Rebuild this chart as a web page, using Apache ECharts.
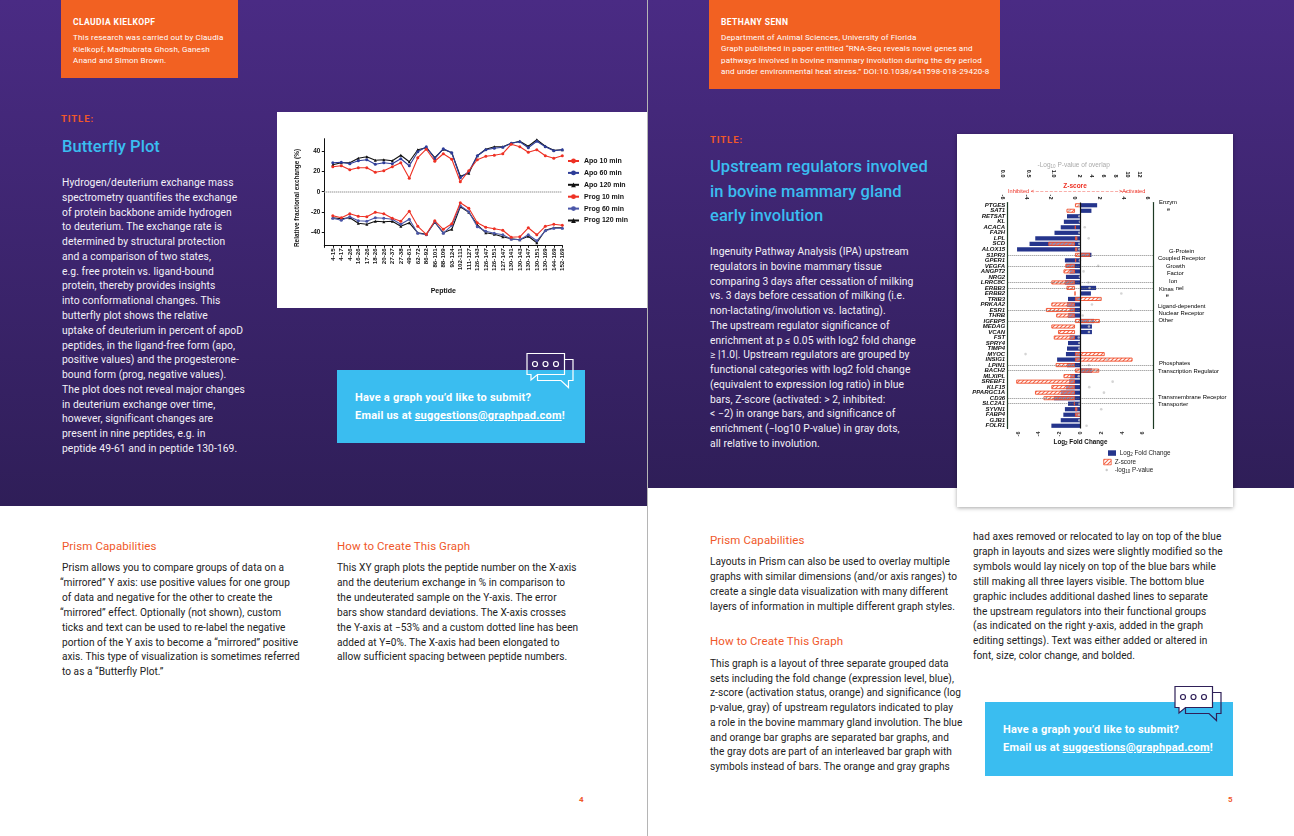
<!DOCTYPE html>
<html>
<head>
<meta charset="utf-8">
<title>Butterfly plot and upstream regulators</title>
<style>
  html, body { margin: 0; padding: 0; background: #fff; }
  #page { position: relative; width: 1294px; height: 836px; overflow: hidden; font-family: Roboto, sans-serif; }
  .box { position: absolute; }
  .t { position: absolute; white-space: nowrap; }
  .q { margin-left: -2px; }
  #chart { position: absolute; left: 0; top: 0; width: 1294px; height: 836px; }
</style>
</head>
<body>
<div id="page">
  <div class="box" style="left:0;top:0;width:647px;height:506px;background:linear-gradient(#4a2b84,#2f1e58)"></div>
  <div class="box" style="left:648px;top:0;width:646px;height:488px;background:linear-gradient(#4a2b84,#2f1e58)"></div>
  <div class="box" style="left:647px;top:0;width:1px;height:836px;background:#b5b5b5"></div>
  <div class="box" style="left:61px;top:0;width:177px;height:78px;background:#f26122"></div>
  <div class="box" style="left:709px;top:0;width:291px;height:89px;background:#f26122"></div>
  <div class="box" style="left:277px;top:112px;width:370px;height:196px;background:#fff"></div>
  <div class="box" style="left:957px;top:134px;width:276px;height:373px;background:#fff;box-shadow:0 1px 4px rgba(0,0,0,.35)"></div>
  <div class="box" style="left:337px;top:370px;width:248px;height:73px;background:#3abdf0"></div>
  <div class="box" style="left:985px;top:702px;width:248px;height:74px;background:#3abdf0"></div>
  <svg class="box" style="left:525px;top:352px" width="50" height="38" fill="none" stroke="#fff" stroke-width="1.2">
    <path d="M39.5 7.5H48V28.500H43.500V35.500L36 28.500H12.500V23" />
    <path d="M2 1.500H39.500V22.500H12.500L6 28V22.500H2Z" />
    <circle cx="10" cy="12" r="2.500" /><circle cx="20.500" cy="12" r="2.500" /><circle cx="31" cy="12" r="2.500" />
  </svg>
  <svg class="box" style="left:1173px;top:685px" width="50" height="38" fill="none" stroke="#2f2058" stroke-width="1.2">
    <path d="M39.500 7.500H48V28.500H43.500V35.500L36 28.500H12.500V23" />
    <path d="M2 1.500H39.500V22.500H12.500L6 28V22.500H2Z" fill="#fff" />
    <circle cx="10" cy="12" r="2.500" /><circle cx="20.500" cy="12" r="2.500" /><circle cx="31" cy="12" r="2.500" />
  </svg>
  <div id="chart"></div>
</div>
<script src="https://cdn.jsdelivr.net/npm/echarts@6/dist/echarts.min.js"></script>
<script>
  // left chart
  const peptides = ['4-15', '4-17', '4-26', '16-26', '17-26', '18-26', '20-26', '27-37', '27-38', '49-61', '62-72', '86-92', '86-101', '88-109', '93-124', '102-111', '111-127', '126-143', '126-147', '126-151', '127-147', '130-141', '130-143', '130-147', '130-151', '130-169', '144-169', '152-169']
  const apo10 = [25, 26, 22, 24, 24, 19.5, 21, 25, 29, 13.5, 34, 42.5, 30.5, 38, 32.5, 10, 21, 32, 35.5, 36.5, 38, 47.5, 45, 39.5, 42, 36, 33.5, 36]
  const apo60 = [29, 29.5, 28, 31, 32, 27.5, 29, 28, 33, 26, 40, 45, 33, 43, 39, 14, 20, 36, 42, 43.5, 44.5, 48.5, 50, 44, 50.5, 45, 41, 42]
  const apo120 = [27, 29, 29, 33.5, 35, 31.5, 32, 31, 36.5, 30, 42, 44, 34, 42.5, 39, 15.5, 18.5, 36, 42.5, 45, 45, 48.5, 50.5, 45.5, 52, 45.5, 41.5, 42]
  const prog10 = [-24, -26, -22, -24.5, -25, -20.5, -22, -26.5, -29.5, -19.5, -34.5, -42.5, -29, -37.5, -32, -11, -16.5, -31, -35.5, -37, -38.5, -45.5, -45, -36, -43, -34.5, -32.5, -33.5]
  const prog60 = [-26.5, -28.5, -25, -29, -29.5, -26, -26.5, -27.5, -32.5, -27.5, -41.5, -43, -30, -41.5, -33.5, -14, -20, -35, -39.5, -41.5, -43, -47.5, -48, -43, -49, -39, -36.5, -36.5]
  const prog120 = [-26, -27, -26, -31.5, -32.5, -29.5, -30, -29.5, -34.5, -31, -41, -42.5, -30.5, -41, -37.5, -15, -20.5, -33, -41, -42.5, -45, -47, -48, -44.5, -51, -38.5, -36, -36]
  const exchangeTicks = [-40, -20, 0, 20, 40]

  // right chart
  const genes = ['PTGES', 'SAT1', 'RETSAT', 'KL', 'ACACA', 'FA2H', 'LPL', 'SCD', 'ALOX15', 'S1PR3', 'GPER1', 'VEGFA', 'ANGPT2', 'NRG2', 'LRRC8C', 'ERBB3', 'ERBB2', 'TRIB3', 'PRKAA2', 'ESR1', 'THRB', 'IGFBP5', 'MEDAG', 'VCAN', 'FST', 'SPRY4', 'TIMP4', 'MYOC', 'INSIG1', 'LPIN1', 'BACH2', 'MLXIPL', 'SREBF1', 'KLF15', 'PPARGC1A', 'CD36', 'SLC2A1', 'SYVN1', 'FABP4', 'GJB1', 'FOLR1']
  const foldChange = [1.6, 1.05, -1.3, -1.6, -1.9, -2.5, -4.35, -4.9, -6.1, 1.05, -1.5, -1.4, -1.05, -1.4, -1.5, 1.5, 1, -1.2, -1.3, -1.05, -1.2, 1.3, 1.1, 1.1, -1.05, -1.2, -1.3, -1.4, -2.25, -1.3, 1.1, -1, -1.1, -1.4, -1.9, -2.55, -1.2, -1.5, -1.65, -1.9, -2.8]
  const zScore = [0.5, -0.7, null, null, 0.05, null, 0.2, -2.2, 0.2, 1.25, 0.1, -0.8, -0.95, null, -1.95, -0.7, 0, 2.2, -1.95, -2.4, -1.55, 2.05, -1.95, -1.4, -1.75, null, null, 2.45, 4.75, -1.6, 2, -0.95, -4.85, -1.95, -3.3, -2.6, -0.1, 0.2, 0.45, null, null]
  const pValue = [1.9, 1.3, 1.9, 2, 2.8, 1.9, 3.45, 1.9, 1.9, 2, 2, 5.05, 2.6, 2, 3.4, 3.6, 8.9, 5.3, 4, 10.5, 2.45, 3.7, 3.5, 3.5, 1.8, 1.9, 1.9, 0.45, 6.5, 3.5, 4.6, 1.8, 7.45, 3.55, 6, 0.83, 1.9, 5.55, 1.9, 1.9, 3.1]
  const dividerGenes = ['S1PR3', 'VEGFA', 'LRRC8C', 'ERBB3', 'ESR1', 'IGFBP5', 'LPIN1', 'BACH2', 'CD36', 'SLC2A1']
  const foldTicks = [-6, -4, -2, 0, 2, 4, 6]
  const pTicksLow = [0, 0.5, 1]
  const pTicksHigh = [2, 4, 6, 8, 10, 12]

  // page text, [x, y of first line, line height, style name, lines]
  const textBlocks = [
    [73, 22, 0, 'who', ['CLAUDIA KIELKOPF']],
    [73, 38, 11.5, 'credit', ['This research was carried out by Claudia', 'Kielkopf, Madhubrata Ghosh, Ganesh', 'Anand and Simon Brown.']],
    [61, 119, 0, 'label', ['TITLE:']],
    [62, 146.5, 0, 'heading', ['Butterfly Plot']],
    [62, 183, 14.78, 'body', ['Hydrogen/deuterium exchange mass', 'spectrometry quantifies the exchange', 'of protein backbone amide hydrogen', 'to deuterium. The exchange rate is', 'determined by structural protection', 'and a comparison of two states,', 'e.g. free protein vs. ligand-bound', 'protein, thereby provides insights', 'into conformational changes. This', 'butterfly plot shows the relative', 'uptake of deuterium in percent of apoD', 'peptides, in the ligand-free form (apo,', 'positive values) and the progesterone-', 'bound form (prog, negative values).', 'The plot does not reveal major changes', 'in deuterium exchange over time,', 'however, significant changes are', 'present in nine peptides, e.g. in', 'peptide 49-61 and in peptide 130-169.']],
    [355, 398, 18, 'ask', ['Have a graph you’d like to submit?', 'Email us at <u>suggestions@graphpad.com</u>!']],
    [62, 546, 0, 'sub', ['Prism Capabilities']],
    [337, 546, 0, 'sub', ['How to Create This Graph']],
    [62, 568, 14.9, 'para', ['Prism allows you to compare groups of data on a', '<span class="q">“mirrored” Y axis: use positive values for one group</span>', 'of data and negative for the other to create the', '<span class="q">“mirrored” effect. Optionally (not shown), custom</span>', 'ticks and text can be used to re-label the negative', 'portion of the Y axis to become a “mirrored” positive', 'axis. This type of visualization is sometimes referred', 'to as a “Butterfly Plot.”']],
    [337, 568, 14.9, 'para', ['This XY graph plots the peptide number on the X-axis', 'and the deuterium exchange in % in comparison to', 'the undeuterated sample on the Y-axis. The error', 'bars show standard deviations. The X-axis crosses', 'the Y-axis at −53% and a custom dotted line has been', 'added at Y=0%. The X-axis had been elongated to', 'allow sufficient spacing between peptide numbers.']],
    [579, 800, 0, 'num', ['4']],
    [721, 22, 0, 'who', ['BETHANY SENN']],
    [721, 38, 11.4, 'credit', ['Department of Animal Sciences, University of Florida', 'Graph published in paper entitled “RNA-Seq reveals novel genes and', 'pathways involved in bovine mammary involution during the dry period', 'and under environmental heat stress.” DOI:10.1038/s41598-018-29420-8']],
    [710, 140, 0, 'label', ['TITLE:']],
    [710, 167, 24.5, 'heading', ['Upstream regulators involved', 'in bovine mammary gland', 'early involution']],
    [710, 252, 14.77, 'body', ['Ingenuity Pathway Analysis (IPA) upstream', 'regulators in bovine mammary tissue', 'comparing 3 days after cessation of milking', 'vs. 3 days before cessation of milking (i.e.', 'non-lactating/involution vs. lactating).', 'The upstream regulator significance of', 'enrichment at p ≤ 0.05 with log2 fold change', '≥ |1.0|. Upstream regulators are grouped by', 'functional categories with log2 fold change', '(equivalent to expression log ratio) in blue', 'bars, Z-score (activated: > 2, inhibited:', '< −2) in orange bars, and significance of', 'enrichment (−log10 P-value) in gray dots,', 'all relative to involution.']],
    [1003, 730, 18, 'ask', ['Have a graph you’d like to submit?', 'Email us at <u>suggestions@graphpad.com</u>!']],
    [710, 540, 0, 'sub', ['Prism Capabilities']],
    [710, 562, 15, 'para', ['Layouts in Prism can also be used to overlay multiple', 'graphs with similar dimensions (and/or axis ranges) to', 'create a single data visualization with many different', 'layers of information in multiple different graph styles.']],
    [710, 641, 0, 'sub', ['How to Create This Graph']],
    [710, 664, 14.7, 'para', ['This graph is a layout of three separate grouped data', 'sets including the fold change (expression level, blue),', 'z-score (activation status, orange) and significance (log', 'p-value, gray) of upstream regulators indicated to play', 'a role in the bovine mammary gland involution. The blue', 'and orange bar graphs are separated bar graphs, and', 'the gray dots are part of an interleaved bar graph with', 'symbols instead of bars. The orange and gray graphs']],
    [973, 537, 14.9, 'para', ['had axes removed or relocated to lay on top of the blue', 'graph in layouts and sizes were slightly modified so the', 'symbols would lay nicely on top of the blue bars while', 'still making all three layers visible. The bottom blue', 'graphic includes additional dashed lines to separate', 'the upstream regulators into their functional groups', '(as indicated on the right y-axis, added in the graph', 'editing settings). Text was either added or altered in', 'font, size, color change, and bolded.']],
    [1228, 800, 0, 'num', ['5']]
  ]
  const textStyles = {
    who: 'color:#fff;font-size:8.500px;font-weight:700;letter-spacing:.4px',
    credit: 'color:#fff;font-size:8px;letter-spacing:.17px',
    label: 'color:#f0582a;font-size:9.500px;font-weight:700;letter-spacing:.9px',
    heading: 'color:#3abdf0;font-size:16.500px;font-weight:500;letter-spacing:.05px',
    body: 'color:#f3f1f8;font-size:10.300px;letter-spacing:.07px',
    ask: 'color:#fff;font-size:11px;font-weight:700;letter-spacing:.22px',
    sub: 'color:#f0582a;font-size:11.500px;letter-spacing:.1px',
    para: 'color:#222;font-size:10.100px;letter-spacing:.05px',
    num: 'color:#f0582a;font-size:8px;font-weight:700'
  }

  const page = document.getElementById('page')
  const chartEl = document.getElementById('chart')
  textBlocks.forEach(([x, y, lh, kind, lines]) => {
    lines.forEach((line, i) => {
      const el = document.createElement('div')
      el.className = 't'
      el.style.cssText = textStyles[kind] + `;left:${x}px;top:${y + i * lh - 10}px;height:20px;line-height:20px`
      el.innerHTML = line
      page.insertBefore(el, chartEl)
    })
  })

  const red = '#ee3124'
  const blue = '#2e3d98'
  const blue2 = '#4a56a8'
  const dark = '#1d3a24'
  const sans = '"Liberation Sans", Arial, sans-serif'

  const hatch = () => {
    const c = document.createElement('canvas')
    c.width = 4
    c.height = 4
    const g = c.getContext('2d')
    g.fillStyle = 'rgba(255,255,255,0.45)'
    g.fillRect(0, 0, 4, 4)
    g.strokeStyle = '#f4684c'
    g.lineWidth = 1.1
    g.beginPath()
    g.moveTo(-1, 1); g.lineTo(1, -1)
    g.moveTo(-1, 5); g.lineTo(5, -1)
    g.moveTo(3, 5); g.lineTo(5, 3)
    g.stroke()
    return { image: c, repeat: 'repeat' }
  }

  const lineSeries = (name, data, color, symbol, z) => ({
    name,
    type: 'line',
    xAxisIndex: 0,
    yAxisIndex: 0,
    data: [null].concat(data),
    symbol,
    symbolSize: 3,
    z,
    lineStyle: { color, width: 1.100 },
    itemStyle: { color }
  })

  const rotatedLabel = {
    rotate: 90,
    color: '#111',
    fontFamily: sans,
    fontWeight: 'bold',
    fontSize: 5.500,
    margin: 3
  }

  const pSeries = (keep, xAxisIndex, yAxisIndex) => ({
    type: 'scatter',
    xAxisIndex,
    yAxisIndex,
    symbolSize: 2.600,
    z: 6,
    itemStyle: { color: '#c9c9c9' },
    data: pValue.map((v, i) => keep(v) ? [v, genes[i]] : null).filter(d => d)
  })

  const hiddenGenes = gridIndex => ({
    type: 'category',
    gridIndex,
    data: genes,
    inverse: true,
    show: false
  })

  const ink = (text, x, y, size, extra) => ({
    type: 'text',
    x,
    y,
    z: 20,
    style: Object.assign({ text, fill: '#111', font: `${size}px ${sans}`, align: 'left', verticalAlign: 'middle' }, extra)
  })
  const groupFont = { fill: '#000', font: `5.900px ${sans}` }

  const option = {
    animation: false,
    grid: [
      { left: 324.300, top: 138.700, width: 238, height: 106.600 },
      { left: 1007.700, top: 202.500, width: 145.600, height: 226 },
      { left: 1002.300, top: 202.500, width: 145.400, height: 226 },
      { left: 1002.300, top: 202.500, width: 68.700, height: 226 },
      { left: 1076.300, top: 202.500, width: 69, height: 226 }
    ],
    legend: {
      left: 567,
      top: 157.500,
      padding: 0,
      orient: 'vertical',
      itemWidth: 11,
      itemHeight: 6,
      itemGap: 4.900,
      selectedMode: false,
      textStyle: { fontFamily: sans, fontWeight: 'bold', fontSize: 7, color: '#111' },
      data: ['Apo 10 min', 'Apo 60 min', 'Apo 120 min', 'Prog 10 min', 'Prog 60 min', 'Prog 120 min']
    },
    xAxis: [
      {
        type: 'category',
        gridIndex: 0,
        data: [''].concat(peptides),
        boundaryGap: false,
        name: 'Peptide',
        nameLocation: 'middle',
        nameGap: 42,
        nameTextStyle: { fontFamily: sans, fontWeight: 'bold', fontSize: 7, color: '#111' },
        axisLine: { onZero: false, lineStyle: { color: '#111', width: 1 } },
        axisTick: { length: 2.500, lineStyle: { color: '#111' } },
        axisLabel: { interval: 0, rotate: 90, margin: 3, color: '#111', fontFamily: sans, fontWeight: 'bold', fontSize: 6.200 }
      },
      {
        type: 'value',
        gridIndex: 1,
        min: -7,
        max: 7,
        position: 'bottom',
        splitLine: { show: false },
        axisLine: { onZero: false, lineStyle: { color: dark, width: 1.200 } },
        axisTick: { customValues: foldTicks, length: 2, lineStyle: { color: dark } },
        axisLabel: Object.assign({}, rotatedLabel, { customValues: foldTicks, color: '#333' })
      },
      {
        type: 'value',
        gridIndex: 2,
        min: -6,
        max: 6,
        interval: 2,
        position: 'top',
        splitLine: { show: false },
        axisLine: { onZero: false, lineStyle: { color: '#f0502e', width: 1 } },
        axisTick: { length: 2, lineStyle: { color: '#f0502e' } },
        axisLabel: rotatedLabel
      },
      {
        type: 'value',
        gridIndex: 3,
        min: 0,
        max: 1.330,
        position: 'top',
        offset: 22,
        splitLine: { show: false },
        axisLine: { onZero: false, lineStyle: { color: '#a8a8a8', width: 0.800 } },
        axisTick: { customValues: pTicksLow.concat([1.330]), length: 2, lineStyle: { color: '#888' } },
        axisLabel: Object.assign({}, rotatedLabel, { customValues: pTicksLow, formatter: v => v.toFixed(1) })
      },
      {
        type: 'value',
        gridIndex: 4,
        min: 1.390,
        max: 12.900,
        position: 'top',
        offset: 22,
        splitLine: { show: false },
        axisLine: { onZero: false, lineStyle: { color: '#a8a8a8', width: 0.800 } },
        axisTick: { customValues: [1.390].concat(pTicksHigh), length: 2, lineStyle: { color: '#888' } },
        axisLabel: Object.assign({}, rotatedLabel, { customValues: pTicksHigh })
      }
    ],
    yAxis: [
      {
        type: 'value',
        gridIndex: 0,
        min: -53.500,
        max: 53,
        splitLine: { show: false },
        axisLine: { show: true, onZero: false, lineStyle: { color: '#111', width: 1 } },
        axisTick: { show: true, customValues: exchangeTicks, length: 2.500, lineStyle: { color: '#111' } },
        axisLabel: { customValues: exchangeTicks, margin: 4, color: '#111', fontFamily: sans, fontWeight: 'bold', fontSize: 6.400 }
      },
      {
        type: 'category',
        gridIndex: 1,
        data: genes,
        inverse: true,
        position: 'left',
        axisLine: { onZero: false, lineStyle: { color: dark, width: 1.200 } },
        axisTick: { alignWithLabel: true, length: 1.500, lineStyle: { color: dark } },
        axisLabel: { interval: 0, margin: 2.500, color: '#111', fontFamily: sans, fontWeight: 'bold', fontStyle: 'italic', fontSize: 6 }
      },
      {
        type: 'category',
        gridIndex: 1,
        data: genes,
        inverse: true,
        position: 'right',
        axisLine: { onZero: false, lineStyle: { color: dark, width: 1.200 } },
        axisTick: { alignWithLabel: true, inside: false, length: 2.500, interval: (i, g) => g === 'PTGES' || dividerGenes.includes(g), lineStyle: { color: dark } },
        axisLabel: { show: false }
      },
      hiddenGenes(2),
      hiddenGenes(3),
      hiddenGenes(4)
    ],
    series: [
      lineSeries('Apo 120 min', apo120, '#111', 'triangle', 3),
      lineSeries('Prog 120 min', prog120, '#111', 'triangle', 3),
      lineSeries('Apo 60 min', apo60, blue, 'circle', 4),
      lineSeries('Prog 60 min', prog60, blue2, 'circle', 4),
      Object.assign(lineSeries('Apo 10 min', apo10, red, 'circle', 5), {
        markLine: {
          silent: true,
          symbol: 'none',
          label: { show: false },
          lineStyle: { color: '#999', type: [1, 1], width: 1.500 },
          data: [{ yAxis: 0 }]
        }
      }),
      lineSeries('Prog 10 min', prog10, red, 'circle', 5),
      {
        name: 'Log2 Fold Change',
        type: 'bar',
        xAxisIndex: 1,
        yAxisIndex: 1,
        data: foldChange,
        barWidth: 4.200,
        z: 3,
        itemStyle: { color: '#25358c' },
        markLine: {
          silent: true,
          symbol: 'none',
          label: { show: false },
          z: 7,
          data: dividerGenes.map(g => ({ yAxis: g, lineStyle: { color: '#666', type: [1, 1], width: 0.800 } }))
            .concat([{ xAxis: 0, lineStyle: { color: '#111', type: 'solid', width: 1.200 } }])
        }
      },
      {
        name: 'Z-score',
        type: 'bar',
        xAxisIndex: 2,
        yAxisIndex: 3,
        data: zScore,
        barWidth: 4,
        z: 5,
        itemStyle: { color: hatch(), borderColor: '#f0502e', borderWidth: 0.900 }
      },
      pSeries(v => v < 1.390, 3, 4),
      pSeries(v => v >= 1.390, 4, 5)
    ],
    graphic: [
      // sits lower than the axis centre in the original, so not an axis name
      {
        type: 'text',
        x: 297.700,
        y: 198,
        rotation: Math.PI / 2,
        z: 20,
        style: { text: 'Relative fractional exchange (%)', fill: '#111', font: `bold 6.400px ${sans}`, align: 'center', verticalAlign: 'middle' }
      },
      ink('{a|-Log}{b|10}{a| P-value of overlap}', 1073.700, 165, 6, {
        align: 'center',
        fill: '#a9a9a9',
        rich: {
          a: { fill: '#a9a9a9', font: `6.500px ${sans}` },
          b: { fill: '#a9a9a9', font: `4.500px ${sans}`, verticalAlign: 'bottom', padding: [3, 0, 0, 0] }
        }
      }),
      ink('Z-score', 1075, 186, 7, { align: 'center', fill: '#ee3124', font: `bold 6.500px ${sans}` }),
      ink('Inhibited <', 1008, 191, 5, { fill: '#ee3124', font: `5.600px ${sans}` }),
      ink('– – – – – – – – – – – – – – – – – – – – –', 1031, 191, 5, { fill: '#ee3124', font: `5.600px ${sans}` }),
      ink('>Activated', 1119, 191, 5, { fill: '#ee3124', font: `5.600px ${sans}` }),

      ink('Enzym', 1159, 202, 5.900, groupFont),
      ink('e', 1167, 209, 5.900, groupFont),
      ink('G-Protein', 1169, 251.700, 5.900, groupFont),
      ink('Coupled Receptor', 1158, 258, 5.900, groupFont),
      ink('Growth', 1166, 266.700, 5.900, groupFont),
      ink('Factor', 1167, 273.300, 5.900, groupFont),
      ink('Ion', 1169, 281.700, 5.900, groupFont),
      ink('Kinas', 1159, 289, 5.900, groupFont),
      ink('nel', 1175.700, 288.300, 5.900, groupFont),
      ink('e', 1165.700, 295.700, 5.900, groupFont),
      ink('Ligand-dependent', 1158, 306.300, 5.900, groupFont),
      ink('Nuclear Receptor', 1158.500, 313, 5.900, groupFont),
      ink('Other', 1158.500, 320.700, 5.900, groupFont),
      ink('Phosphates', 1159, 363, 5.900, groupFont),
      ink('Transcription Regulator', 1158, 371.700, 5.900, groupFont),
      ink('Transmembrane Receptor', 1158, 397.300, 5.900, groupFont),
      ink('Transporter', 1158, 404.300, 5.900, groupFont),

      ink('{a|Log}{b|2}{a| Fold Change}', 1080.500, 442, 7, {
        align: 'center',
        rich: {
          a: { fill: '#111', font: `bold 6.300px ${sans}` },
          b: { fill: '#111', font: `bold 4.500px ${sans}`, verticalAlign: 'bottom', padding: [3, 0, 0, 0] }
        }
      }),
      { type: 'rect', z: 20, shape: { x: 1108, y: 450.300, width: 8, height: 5.500 }, style: { fill: '#25358c' } },
      ink('{a|Log}{b|2}{a| Fold Change}', 1119.700, 453.500, 6, {
        rich: {
          a: { fill: '#222', font: `6.300px ${sans}` },
          b: { fill: '#222', font: `4.500px ${sans}`, verticalAlign: 'bottom', padding: [3, 0, 0, 0] }
        }
      }),
      { type: 'rect', z: 20, shape: { x: 1103.700, y: 459.300, width: 7.500, height: 5.500 }, style: { fill: hatch(), stroke: '#f0502e', lineWidth: 0.800 } },
      ink('Z-score', 1114.700, 462.300, 6, { fill: '#222', font: `6.300px ${sans}` }),
      { type: 'circle', z: 20, shape: { cx: 1106.700, cy: 470, r: 1.200 }, style: { fill: '#c9c9c9' } },
      ink('{a|-log}{b|10}{a| P-value}', 1114.700, 470.500, 6, {
        rich: {
          a: { fill: '#222', font: `6.300px ${sans}` },
          b: { fill: '#222', font: `4.500px ${sans}`, verticalAlign: 'bottom', padding: [3, 0, 0, 0] }
        }
      })
    ]
  }

  const chartInstance = echarts.init(chartEl)
  chartInstance.setOption(option)
</script>
</body>
</html>
